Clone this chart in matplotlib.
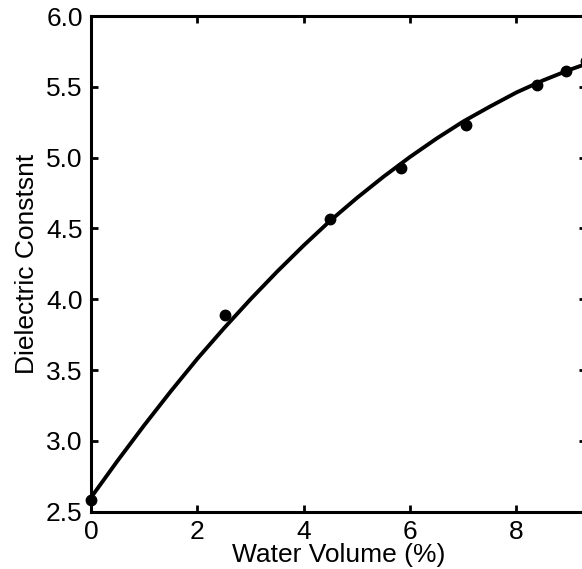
import numpy as np
import matplotlib
matplotlib.use('Agg')
import matplotlib.pyplot as plt

plt.rcParams['font.family'] = ['Liberation Sans', 'DejaVu Sans']

# measured points
water_vol = [0.0, 2.52, 4.49, 5.83, 7.06, 8.39, 8.94, 9.30]
dielectric = [2.58, 3.89, 4.57, 4.93, 5.23, 5.51, 5.61, 5.68]

# fitted curve, every 0.5 %
fit_x = [0.0, 0.5, 1.0, 1.5, 2.0, 2.5, 3.0, 3.5, 4.0, 4.5,
         5.0, 5.5, 6.0, 6.5, 7.0, 7.5, 8.0, 8.5, 9.0, 9.3]
fit_y = [2.60, 2.86, 3.11, 3.35, 3.58, 3.795, 4.00, 4.195, 4.38, 4.555,
         4.715, 4.865, 5.005, 5.135, 5.255, 5.36, 5.46, 5.545, 5.62, 5.66]

xticks = [0, 2, 4, 6, 8]
yticks = [2.5, 3.0, 3.5, 4.0, 4.5, 5.0, 5.5, 6.0]

fig = plt.figure(figsize=(5.82, 5.69), dpi=100)
# right spine sits just outside the picture, as in the cropped original
ax = fig.add_axes([91 / 582, 1 - 511.7 / 569, (585.5 - 91) / 582, (511.7 - 16) / 569])

ax.plot(fit_x, fit_y, color='black', lw=2.8, solid_capstyle='round', zorder=2)
ax.plot(water_vol, dielectric, 'o', color='black', ms=7.5, clip_on=False, zorder=3)

ax.set_xlim(0, 9.3)
ax.set_ylim(2.5, 6.0)
ax.set_xticks(xticks)
ax.set_yticks(yticks)
ax.set_yticklabels([f'{v:.1f}' for v in yticks])

ax.tick_params(direction='in', length=5, width=2, labelsize=19,
               top=True, right=True, pad=6)
for s in ax.spines.values():
    s.set_linewidth(2.2)

ax.set_xlabel('Water Volume (%)', fontsize=19, labelpad=-1)
ax.set_ylabel('Dielectric Constsnt', fontsize=19, labelpad=5)

fig.savefig('out.png', dpi=100)
